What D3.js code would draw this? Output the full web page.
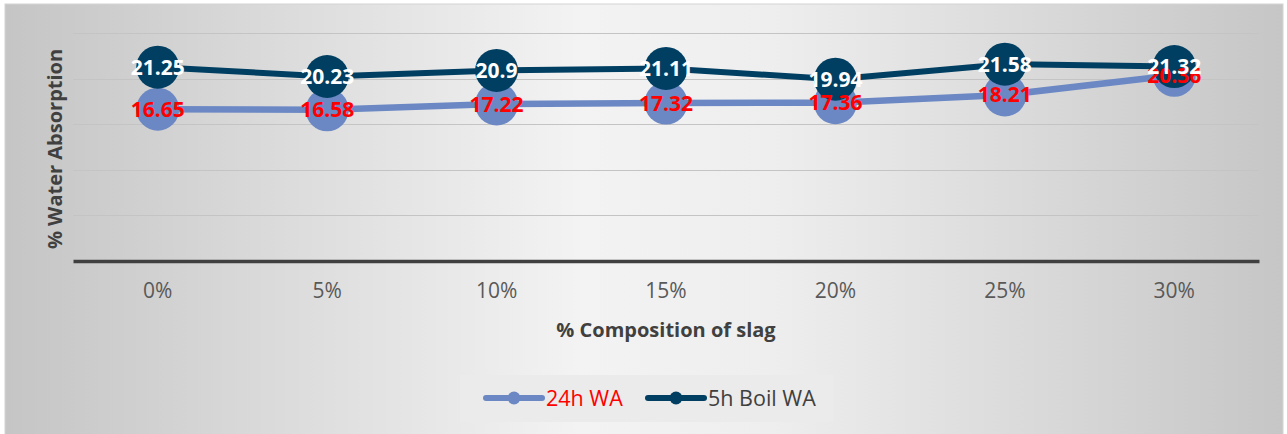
<!DOCTYPE html>
<html>
<head>
<meta charset="utf-8">
<script src="https://cdn.jsdelivr.net/npm/d3@7"></script>
<style>
  body { margin: 0; background: #fff; }
  svg { display: block; }
</style>
</head>
<body>
<div id="chart"></div>
<script>
// data
const categories = ['0%', '5%', '10%', '15%', '20%', '25%', '30%'];
const wa24h = [16.65, 16.58, 17.22, 17.32, 17.36, 18.21, 20.36];
const boil5h = [21.25, 20.23, 20.9, 21.11, 19.94, 21.58, 21.32];
const yTicks = [0, 5, 10, 15, 20, 25];
const seriesNames = ['24h WA', '5h Boil WA'];

const width = 1287, height = 434;
const margin = { top: 33, right: 28, bottom: 173, left: 73 };
const font = '"Open Sans", "Liberation Sans", sans-serif';
const lightBlue = '#6b88c4';
const darkBlue = '#003f62';

let svg = d3.select('#chart').append('svg')
    .attr('width', width)
    .attr('height', height);

// background gradient (light in the middle, grey at the sides)
let defs = svg.append('defs');
let grad = defs.append('linearGradient')
    .attr('id', 'bg')
    .attr('x1', '0%').attr('x2', '100%')
    .attr('y1', '0%').attr('y2', '0%');
grad.append('stop').attr('offset', '0%').attr('stop-color', '#c5c5c5');
grad.append('stop').attr('offset', '45%').attr('stop-color', '#f3f3f3');
grad.append('stop').attr('offset', '60%').attr('stop-color', '#eeeeee');
grad.append('stop').attr('offset', '100%').attr('stop-color', '#c6c6c6');

svg.append('rect')
    .attr('x', 5).attr('y', 4)
    .attr('width', 1278).attr('height', 432)
    .attr('fill', 'url(#bg)')
    .attr('stroke', '#d4d4d4')
    .attr('stroke-width', 1);

let x = d3.scaleBand()
    .domain(categories)
    .range([margin.left, width - margin.right]);

let y = d3.scaleLinear()
    .domain([0, 25])
    .range([height - margin.bottom, margin.top]);

// gridlines
svg.append('g')
    .selectAll('line')
    .data(yTicks.filter(d => d > 0))
    .enter()
    .append('line')
    .attr('x1', margin.left)
    .attr('x2', width - margin.right)
    .attr('y1', d => Math.round(y(d)) + 0.5)
    .attr('y2', d => Math.round(y(d)) + 0.5)
    .attr('stroke', '#c4c4c4')
    .attr('stroke-width', 1.2);

// x axis
let xAxis = svg.append('g')
    .attr('transform', `translate(0, ${y(0)})`)
    .call(d3.axisBottom(x).tickSize(0).tickPadding(22));
xAxis.select('.domain')
    .attr('stroke', '#404040')
    .attr('stroke-width', 3.5);
xAxis.selectAll('text')
    .attr('font-family', font)
    .attr('font-size', 21)
    .attr('fill', '#595959');

// axis titles
svg.append('text')
    .attr('x', (margin.left + width - margin.right) / 2)
    .attr('y', 337)
    .attr('text-anchor', 'middle')
    .attr('font-family', font)
    .attr('font-weight', 'bold')
    .attr('font-size', 20)
    .attr('fill', '#404040')
    .text('% Composition of slag');

svg.append('text')
    .attr('transform', 'translate(62, 149) rotate(-90)')
    .attr('text-anchor', 'middle')
    .attr('font-family', font)
    .attr('font-weight', 'bold')
    .attr('font-size', 20)
    .attr('fill', '#404040')
    .text('% Water Absorption');

let line = d3.line()
    .x((d, i) => x(categories[i]) + x.bandwidth() / 2)
    .y(d => y(d));

function drawSeries(values, color, lineWidth) {
    let g = svg.append('g');
    g.append('path')
        .datum(values)
        .attr('d', line)
        .attr('fill', 'none')
        .attr('stroke', color)
        .attr('stroke-width', lineWidth)
        .attr('stroke-linejoin', 'round');
    g.selectAll('circle')
        .data(values)
        .enter()
        .append('circle')
        .attr('cx', (d, i) => x(categories[i]) + x.bandwidth() / 2)
        .attr('cy', d => y(d))
        .attr('r', 21.5)
        .attr('fill', color);
}

function drawLabels(values, color) {
    svg.append('g')
        .selectAll('text')
        .data(values)
        .enter()
        .append('text')
        .attr('x', (d, i) => x(categories[i]) + x.bandwidth() / 2)
        .attr('y', d => y(d))
        .attr('dy', '0.36em')
        .attr('text-anchor', 'middle')
        .attr('font-family', font)
        .attr('font-weight', 'bold')
        .attr('font-size', 21)
        .attr('fill', color)
        .text(d => d);
}

drawSeries(wa24h, lightBlue, 6.5);
drawSeries(boil5h, darkBlue, 6);
drawLabels(wa24h, '#ff0000');
drawLabels(boil5h, '#ffffff');

// legend
let legend = svg.append('g');
legend.append('rect')
    .attr('x', 460).attr('y', 375)
    .attr('width', 373).attr('height', 47)
    .attr('fill', '#ebebeb');

let legendItems = [
    { name: seriesNames[0], color: lightBlue, text: '#ff0000', x0: 486 },
    { name: seriesNames[1], color: darkBlue, text: '#404040', x0: 648 }
];
let li = legend.selectAll('.legend-item')
    .data(legendItems)
    .enter()
    .append('g')
    .attr('transform', d => `translate(${d.x0}, 398)`);
li.append('line')
    .attr('x1', 0).attr('x2', 56)
    .attr('stroke', d => d.color)
    .attr('stroke-width', 6)
    .attr('stroke-linecap', 'round');
li.append('circle')
    .attr('cx', 28)
    .attr('r', 6.5)
    .attr('fill', d => d.color);
li.append('text')
    .attr('x', 60)
    .attr('dy', '0.36em')
    .attr('font-family', font)
    .attr('font-size', 21.5)
    .attr('fill', d => d.text)
    .text(d => d.name);
</script>
</body>
</html>
